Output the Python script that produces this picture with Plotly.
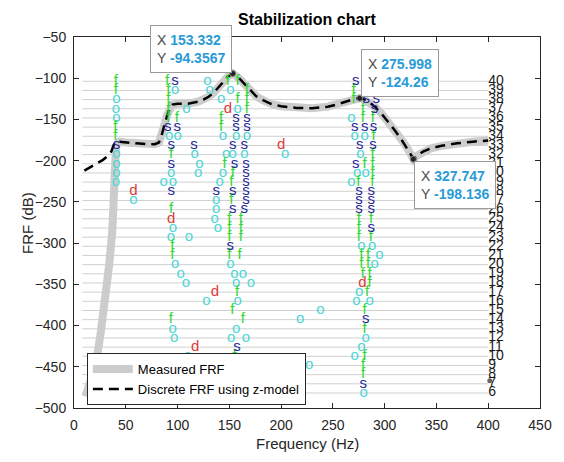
import plotly.graph_objects as go

# ---------------- data ----------------
# Discrete FRF using z-model (dashed)
freq_model = [10, 16, 22, 28, 33, 36, 38, 40, 44, 50, 60, 70, 78, 82, 84.5, 87, 89.5, 92, 95,
              100, 110, 120, 125, 130, 135, 140, 145, 149, 153.332, 157, 161, 165, 170, 176,
              183, 190, 200, 215, 230, 245, 255, 262, 268, 272, 275.998, 280, 285, 291, 297,
              303, 309, 316, 322, 325, 327.747, 331, 337, 345, 355, 370, 385, 400]
frf_model = [-212, -208, -204, -199, -194, -189, -182, -177, -177, -178, -179, -180, -180, -178,
             -170, -158, -146, -137, -132, -131, -131, -128.5, -126, -122.5, -117.5, -110,
             -102.5, -97.5, -94.3567, -97, -102, -107.5, -114.5, -122, -127, -131, -134,
             -136, -136.5, -134.5, -131.5, -128.5, -125.5, -124.5, -124.26, -125.5, -129,
             -135, -143, -152, -162, -174, -185, -192, -198.136, -194, -189, -185, -182,
             -179, -177, -175.5]

# Measured FRF (thick grey)
freq_meas = [11, 16.4, 21.2, 26, 30.8, 34, 37, 38.5, 39.3, 40.5, 42, 44, 50, 60, 70, 78, 82,
             84.5, 87, 89.5, 92, 95, 100, 110, 120, 125, 130, 135, 140, 145, 149, 153.332,
             157, 161, 165, 170, 176, 183, 190, 200, 215, 230, 245, 255, 262, 268, 272,
             275.998, 280, 285, 291, 297, 303, 309, 316, 322, 325, 327.747, 331, 337, 345,
             355, 370, 385, 400]
frf_meas = [-486, -467, -447, -407, -366, -326, -285, -240, -200, -184, -179, -177, -178, -179,
            -180, -180, -178, -170, -158, -146, -137, -132, -131, -131, -128.5, -126, -122.5,
            -117.5, -110, -102.5, -97.5, -94.3567, -97, -102, -107.5, -114.5, -122, -127,
            -131, -134, -136, -136.5, -134.5, -131.5, -128.5, -125.5, -124.5, -124.26,
            -125.5, -129, -135, -143, -152, -162, -174, -185, -192, -198.136, -194, -189,
            -185, -182, -179, -177, -175.5]

# model orders shown in the stabilization chart
orders = list(range(6, 41))
order_line_start = 8
order_line_end = 400

# 'f' : stable frequency
f_freq = [40.5, 40.5, 40, 40,
          90, 91, 91, 91, 91, 99.2, 93.8, 93.8, 95, 95, 93.5,
          148.6, 158, 158, 167, 167, 167, 142, 142, 145.4, 153.3, 152, 152, 150, 150, 150,
          161, 161, 161, 150, 160, 157.5, 153, 163, 155,
          270, 270, 279, 279, 288.7, 289.3, 288.4, 280.7, 288.4, 288.4, 274.5, 288, 275, 275,
          287, 275, 286.7, 277.5, 284, 277.5, 284, 279, 285.5, 285.5, 283, 280.7, 280.7,
          280.7, 279.2, 279.2]
f_order = [40, 39, 35, 34,
           40, 39, 38, 37, 36, 36, 32, 26, 22, 21, 14,
           40, 40, 38, 39, 38, 37, 36, 35, 31, 30, 29, 27, 25, 24, 23,
           25, 24, 23, 21, 21, 17, 15, 14, 10,
           39, 38, 37, 36, 36, 34, 32, 31, 31, 30, 29, 29, 25, 24,
           25, 23, 23, 21, 21, 20, 20, 19, 19, 18, 17, 15, 13,
           10, 9, 8]

# 's' : stable frequency and damping
s_freq = [41,
          97.6, 90.6, 99.8, 93.8, 116, 93.8, 93.8,
          156.5, 167, 156.5, 167, 153.3, 164.5, 155, 166, 166, 166, 137.4, 153.3, 166, 166,
          153.3, 164.5, 151, 157.5,
          272.1, 282.3, 291.9, 290.3, 271.1, 280.7, 289.3, 276, 288.7, 272.1, 275.3, 287.1,
          275.3, 287.1, 275.3, 287.1, 287.1, 281.7, 279.2]
s_order = [33,
           40, 35, 35, 33, 33, 31, 28,
           36, 36, 35, 35, 33, 33, 31, 31, 30, 29, 28, 28, 28, 27,
           26, 26, 22, 11,
           40, 38, 38, 37, 35, 35, 35, 33, 33, 31, 28, 28,
           27, 27, 26, 26, 24, 14, 7]

# 'd' : stable damping
d_freq = [57.5, 93.8, 148.6, 200, 136, 117, 278.5]
d_order = [28, 25, 37, 33, 17, 11, 18]

# 'o' : new / unstable pole
o_freq = [41, 40.5, 41, 41, 41, 41, 40.5, 57.5,
          97.6, 108.5, 92, 100, 116.5, 121, 120, 93.8, 86.5, 95.5, 95.5, 93.5, 111, 97.6,
          103, 108, 95.3, 96.7, 110,
          128.8, 131, 151, 142, 158, 143.8, 156.5, 167, 147, 153.3, 164.5, 143.8, 140.6,
          137.4, 137.4, 135.9, 139, 151, 155, 163, 156.5, 170.8, 127.8, 158, 156.5, 151.7, 166,
          204, 238, 218.3, 227,
          268, 271.1, 280.7, 276.6, 273.4, 281.7, 268, 277.5, 288, 295, 290.3, 275.3, 272.8,
          285.5, 281.7, 277.5, 271.1, 279.7]
o_order = [38, 37, 36, 32, 31, 30, 29, 27,
           39, 37, 34, 34, 32, 31, 30, 30, 29, 29, 24, 23, 23, 20,
           19, 18, 13, 12, 10,
           40, 39, 39, 38, 37, 34, 34, 34, 32, 32, 32, 30, 29,
           27, 26, 25, 24, 20, 19, 19, 18, 18, 16, 16, 13, 12, 12,
           32, 15, 14, 9,
           36, 34, 34, 32, 30, 30, 29, 22, 22, 21, 20, 17, 16,
           16, 12, 11, 10, 6]

# data tips
tip_freq = [153.332, 275.998, 327.747]
tip_frf = [-94.3567, -124.26, -198.136]
tip_x_text = ["153.332", "275.998", "327.747"]
tip_y_text = ["-94.3567", "-124.26", "-198.136"]
stray_tip_freq = [401.5]
stray_tip_frf = [-467]

# order -> FRF-axis placement of the stabilization rows
ORDER_TOP = 40
ORDER_TOP_DB = -103.7
ORDER_STEP_DB = 11.12


def order_db(n):
    return ORDER_TOP_DB - (ORDER_TOP - n) * ORDER_STEP_DB


FONT = "Liberation Sans, Arial, Helvetica, sans-serif"
AX = "#262626"

fig = go.Figure()

# order rows
lx, ly = [], []
for n in orders:
    lx += [order_line_start, order_line_end, None]
    ly += [order_db(n), order_db(n), None]
fig.add_trace(go.Scatter(x=lx, y=ly, mode="lines", line=dict(color="#d0d0d0", width=1),
                         showlegend=False, hoverinfo="skip"))

fig.add_trace(go.Scatter(x=freq_meas, y=frf_meas, mode="lines", name="Measured FRF",
                         line=dict(color="#cccccc", width=8)))
fig.add_trace(go.Scatter(x=freq_model, y=frf_model, mode="lines",
                         name="Discrete FRF using z-model",
                         line=dict(color="#000000", width=2.5, dash="10px,6px")))


def sym(freqs, ords, ch, color):
    fig.add_trace(go.Scatter(x=freqs, y=[order_db(n) for n in ords], mode="text",
                             text=[ch] * len(freqs), textposition="middle center",
                             textfont=dict(family=FONT, size=15, color=color),
                             showlegend=False, hoverinfo="skip"))


sym(o_freq, o_order, "o", "#4fd6d6")
sym(f_freq, f_order, "f", "#2fd82f")
sym(s_freq, s_order, "s", "#27279c")
sym(d_freq, d_order, "d", "#dd3b3b")

# order labels
fig.add_trace(go.Scatter(x=[order_line_end] * len(orders), y=[order_db(n) for n in orders],
                         mode="text", text=[str(n) for n in orders],
                         textposition="middle right",
                         textfont=dict(family=FONT, size=14, color="#1a1a1a"),
                         showlegend=False, hoverinfo="skip"))

# data tip markers
fig.add_trace(go.Scatter(x=tip_freq, y=tip_frf, mode="markers",
                         marker=dict(size=6, color="#222222", line=dict(color="#888888", width=1)),
                         showlegend=False, hoverinfo="skip"))
fig.add_trace(go.Scatter(x=stray_tip_freq, y=stray_tip_frf, mode="markers",
                         marker=dict(size=5, color="#666666"),
                         showlegend=False, hoverinfo="skip"))

anchors = [("right", "bottom", -1, 1), ("left", "bottom", 1, 1), ("left", "top", 1, -2)]
annotations = []
for (xa, ya, xs, ys), fx, fy, tx, ty in zip(anchors, tip_freq, tip_frf, tip_x_text, tip_y_text):
    annotations.append(dict(
        x=fx, y=fy, xref="x", yref="y", showarrow=False, xanchor=xa, yanchor=ya,
        xshift=xs, yshift=ys, align="left",
        text=(f"X <b><span style='color:#2a9bd6'>{tx}</span></b><br>"
              f"Y <b><span style='color:#2a9bd6'>{ty}</span></b>"),
        font=dict(family=FONT, size=14, color="#4a4a4a"),
        bgcolor="rgba(255,255,255,0.96)", bordercolor="#9a9a9a", borderwidth=1, borderpad=6))

annotations.append(dict(text="Frequency (Hz)", x=0.5, y=-0.097, xref="paper", yref="paper",
                        showarrow=False, xanchor="center", yanchor="middle",
                        font=dict(family=FONT, size=15, color=AX)))
annotations.append(dict(text="FRF (dB)", x=-0.1, y=0.5, xref="paper", yref="paper",
                        showarrow=False, xanchor="center", yanchor="middle", textangle=-90,
                        font=dict(family=FONT, size=15, color=AX)))

axis_common = dict(ticks="inside", ticklen=5, tickcolor=AX, mirror="allticks", showline=True,
                   linecolor=AX, linewidth=1, showgrid=False, zeroline=False,
                   tickfont=dict(family=FONT, size=14, color=AX))

fig.update_layout(
    width=564, height=462,
    margin=dict(l=74, r=19, t=37, b=54),
    paper_bgcolor="white", plot_bgcolor="white",
    title=dict(text="<b>Stabilization chart</b>", x=0.5, xref="paper", xanchor="center",
               y=1 - 19 / 462, yref="container", yanchor="middle",
               font=dict(family=FONT, size=16, color="#000000")),
    xaxis=dict(range=[0, 450], tickvals=list(range(0, 451, 50)), ticklabelstandoff=4,
               **axis_common),
    yaxis=dict(range=[-500, -50], tickvals=list(range(-500, -49, 50)), ticklabelstandoff=4,
               **axis_common),
    legend=dict(x=0.0276, y=0.148, xanchor="left", yanchor="top", bgcolor="white",
                bordercolor=AX, borderwidth=1, font=dict(family=FONT, size=13, color="#000"),
                itemwidth=40, tracegroupgap=0),
    annotations=annotations,
    showlegend=True,
)

fig.write_html("out.html")
